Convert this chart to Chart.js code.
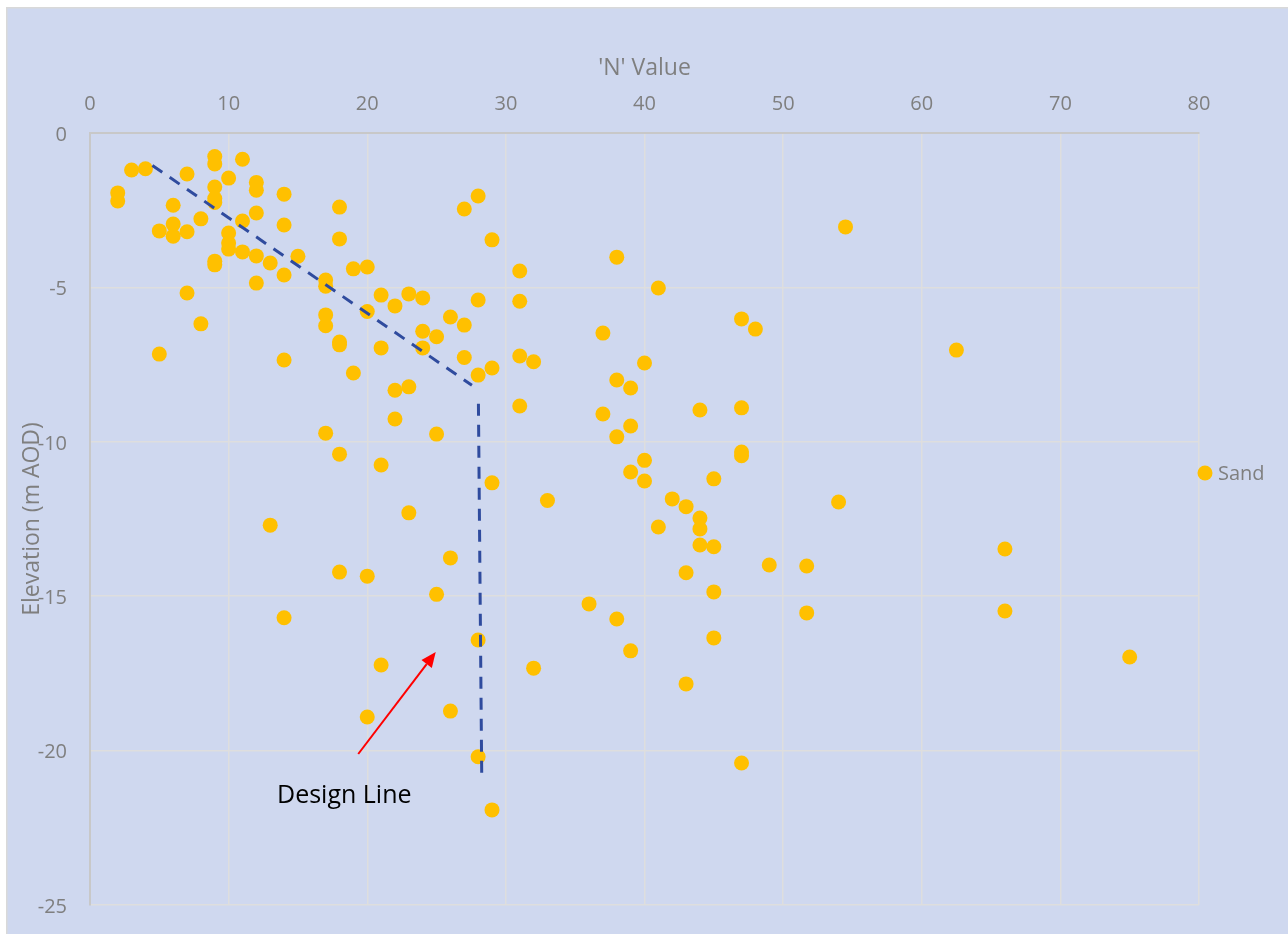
<!DOCTYPE html>
<html>
<head>
<meta charset="utf-8">
<title>'N' Value vs Elevation</title>
<script src="https://cdn.jsdelivr.net/npm/chart.js@4.4.1/dist/chart.umd.min.js"></script>
<style>
  html, body { margin: 0; padding: 0; background: #ffffff; }
  #wrap { width: 1288px; height: 934px; position: relative; }
  canvas { display: block; }
</style>
</head>
<body>
<div id="wrap"><canvas id="chart" width="1288" height="934"></canvas></div>
<script>
// SPT 'N' values and the elevation (m AOD) at which each was recorded
const nValues = [
  2, 2, 3, 4, 5, 5, 6, 6, 6, 7, 7, 7, 8, 8,
  9, 9, 9, 9, 9, 9, 9, 10, 10, 10, 10, 11, 11, 11,
  12, 12, 12, 12, 12, 13, 13, 14, 14, 14, 14, 14, 15,
  17, 17, 17, 17, 17, 18, 18, 18, 18, 18, 18, 19, 19,
  20, 20, 20, 20, 21, 21, 21, 21, 22, 22, 22, 23, 23, 23,
  24, 24, 24, 25, 25, 25, 26, 26, 26, 27, 27, 27,
  28, 28, 28, 28, 28, 29, 29, 29, 29, 31, 31, 31, 31,
  32, 32, 33, 36, 37, 37, 38, 38, 38, 38, 39, 39, 39, 39,
  40, 40, 40, 41, 41, 42, 43, 43, 43, 44, 44, 44, 44,
  45, 45, 45, 45, 47, 47, 47, 47, 47, 48, 49, 51.7, 51.7,
  54, 54.5, 62.5, 66, 66, 75
];
const elevations = [
  -1.94, -2.2, -1.2, -1.16, -3.17, -7.16, -2.34, -2.95, -3.34, -1.33, -3.2, -5.18, -2.78, -6.18,
  -0.76, -1.0, -1.75, -2.12, -2.25, -4.15, -4.27, -1.46, -3.24, -3.56, -3.76, -0.85, -2.85, -3.85,
  -1.6, -1.85, -2.59, -3.98, -4.86, -4.21, -12.7, -1.98, -2.98, -4.6, -7.35, -15.7, -3.99,
  -4.76, -4.96, -5.89, -6.24, -9.72, -2.4, -3.43, -6.77, -6.86, -10.4, -14.22, -4.4, -7.77,
  -4.34, -5.78, -14.35, -18.91, -5.25, -6.96, -10.75, -17.23, -5.6, -8.33, -9.26, -5.21, -8.22, -12.3,
  -5.34, -6.42, -6.96, -6.6, -9.75, -14.94, -5.96, -13.76, -18.72, -2.46, -6.22, -7.27,
  -2.04, -5.41, -7.84, -16.42, -20.2, -3.46, -7.61, -11.33, -21.92, -4.47, -5.45, -7.22, -8.84,
  -7.41, -17.33, -11.9, -15.25, -6.48, -9.1, -4.02, -8.0, -9.84, -15.74, -8.26, -9.49, -10.98, -16.77,
  -7.45, -10.6, -11.27, -5.02, -12.76, -11.85, -12.1, -14.24, -17.84, -8.97, -12.47, -12.82, -13.34,
  -11.2, -13.4, -14.86, -16.35, -6.02, -8.9, -10.33, -10.45, -20.4, -6.35, -13.99, -14.02, -15.54,
  -11.95, -3.04, -7.03, -13.47, -15.48, -16.97
];

// Design line: sloping upper segment, then the near-vertical lower segment
const designUpperN = [4.5, 27.55];
const designUpperElev = [-1.05, -8.17];
const designLowerN = [28.02, 28.26];
const designLowerElev = [-8.77, -20.9];

// Callout arrow (tail -> head) and its caption, in data units
const arrowN = [19.35, 24.94];
const arrowElev = [-20.11, -16.81];
const captionText = 'Design Line';
const captionAt = [13.49, -21.7];

// Axis ranges and tick spacing
const xRange = [0, 80], xStep = 10;
const yRange = [-25, 0], yStep = 5;

const FONT = '"Open Sans", "Noto Sans", "Liberation Sans", sans-serif';
const GREY_TEXT = '#7f7f7f';

const sandPoints = nValues.map((n, i) => ({ x: n, y: elevations[i] }));
const toPoints = (xs, ys) => xs.map((v, i) => ({ x: v, y: ys[i] }));

// Paints the panel background behind everything
const panelBackground = {
  id: 'panelBackground',
  beforeDraw(chart) {
    const { ctx, width, height } = chart;
    ctx.save();
    ctx.fillStyle = '#ffffff';
    ctx.fillRect(0, 0, width, height);
    ctx.fillStyle = '#cfd8ef';
    ctx.fillRect(7, 8, width - 7, height - 8);
    ctx.strokeStyle = '#d9d9d9';
    ctx.lineWidth = 1.5;
    ctx.beginPath();
    ctx.moveTo(6.75, height);
    ctx.lineTo(6.75, 7.75);
    ctx.lineTo(width, 7.75);
    ctx.stroke();
    ctx.restore();
  }
};

// Red callout arrow and caption
const calloutPlugin = {
  id: 'callout',
  afterDatasetsDraw(chart) {
    const { ctx, scales: { x, y } } = chart;
    const x0 = x.getPixelForValue(arrowN[0]), y0 = y.getPixelForValue(arrowElev[0]);
    const x1 = x.getPixelForValue(arrowN[1]), y1 = y.getPixelForValue(arrowElev[1]);
    const ang = Math.atan2(y1 - y0, x1 - x0);
    const headLen = 15, headHalf = 6.5;
    const bx = x1 - headLen * Math.cos(ang), by = y1 - headLen * Math.sin(ang);
    ctx.save();
    ctx.strokeStyle = '#ff0000';
    ctx.fillStyle = '#ff0000';
    ctx.lineWidth = 2;
    ctx.beginPath();
    ctx.moveTo(x0, y0);
    ctx.lineTo(bx, by);
    ctx.stroke();
    ctx.beginPath();
    ctx.moveTo(x1, y1);
    ctx.lineTo(bx + headHalf * Math.sin(ang), by - headHalf * Math.cos(ang));
    ctx.lineTo(bx - headHalf * Math.sin(ang), by + headHalf * Math.cos(ang));
    ctx.closePath();
    ctx.fill();

    ctx.fillStyle = '#000000';
    ctx.font = '25px ' + FONT;
    ctx.textAlign = 'left';
    ctx.textBaseline = 'alphabetic';
    ctx.fillText(captionText, x.getPixelForValue(captionAt[0]), y.getPixelForValue(captionAt[1]));
    ctx.restore();
  }
};

// Single-entry legend to the right of the plot
const sideLegend = {
  id: 'sideLegend',
  afterDraw(chart) {
    const { ctx, chartArea } = chart;
    const ds = chart.data.datasets.find(d => d.showInLegend);
    if (!ds) return;
    const cx = chartArea.right + 6;
    const cy = (8 + chart.height) / 2 + 2;
    ctx.save();
    ctx.fillStyle = ds.backgroundColor;
    ctx.beginPath();
    ctx.arc(cx, cy, 7.5, 0, Math.PI * 2);
    ctx.fill();
    ctx.fillStyle = GREY_TEXT;
    ctx.font = '20px ' + FONT;
    ctx.textAlign = 'left';
    ctx.textBaseline = 'middle';
    ctx.fillText(ds.label, cx + 13, cy + 1);
    ctx.restore();
  }
};

const axisCommon = {
  type: 'linear',
  grid: { color: '#dedede', lineWidth: 1.5, drawTicks: false },
  border: { color: '#c8c8c8', width: 2 },
};

new Chart(document.getElementById('chart'), {
  type: 'scatter',
  data: {
    datasets: [
      {
        label: 'Sand',
        showInLegend: true,
        data: sandPoints,
        backgroundColor: '#ffc000',
        borderWidth: 0,
        pointRadius: 7.5,
        pointHoverRadius: 7.5,
        order: 2
      },
      {
        label: 'Design line upper',
        data: toPoints(designUpperN, designUpperElev),
        showLine: true,
        borderColor: '#2f4b9e',
        borderWidth: 3,
        borderDash: [12, 9],
        pointRadius: 0,
        fill: false,
        order: 1
      },
      {
        label: 'Design line lower',
        data: toPoints(designLowerN, designLowerElev),
        showLine: true,
        borderColor: '#2f4b9e',
        borderWidth: 3,
        borderDash: [12, 9],
        pointRadius: 0,
        fill: false,
        order: 1
      }
    ]
  },
  options: {
    responsive: false,
    animation: false,
    layout: { padding: { left: 7, top: 8, right: 89, bottom: 29 } },
    plugins: {
      legend: { display: false },
      tooltip: { enabled: false }
    },
    scales: {
      x: {
        ...axisCommon,
        position: 'top',
        min: xRange[0],
        max: xRange[1],
        ticks: { stepSize: xStep, color: GREY_TEXT, font: { family: FONT, size: 20 }, padding: 17 },
        title: { display: true, text: "'N' Value", color: GREY_TEXT, font: { family: FONT, size: 23 }, padding: { top: 47, bottom: 0 } },
        afterFit(scale) {
          scale.height = 125;
          scale.paddingLeft = 0;
          scale.paddingRight = 0;
        }
      },
      y: {
        ...axisCommon,
        position: 'left',
        min: yRange[0],
        max: yRange[1],
        ticks: { stepSize: yStep, color: GREY_TEXT, font: { family: FONT, size: 20 }, padding: 23, labelOffset: 2 },
        title: { display: true, text: 'Elevation (m AOD)', color: GREY_TEXT, font: { family: FONT, size: 23 }, padding: { top: 12, bottom: 0 } },
        afterFit(scale) {
          scale.width = 83;
          scale.paddingTop = 0;
          scale.paddingBottom = 0;
        }
      }
    }
  },
  plugins: [panelBackground, calloutPlugin, sideLegend]
});
</script>
</body>
</html>
